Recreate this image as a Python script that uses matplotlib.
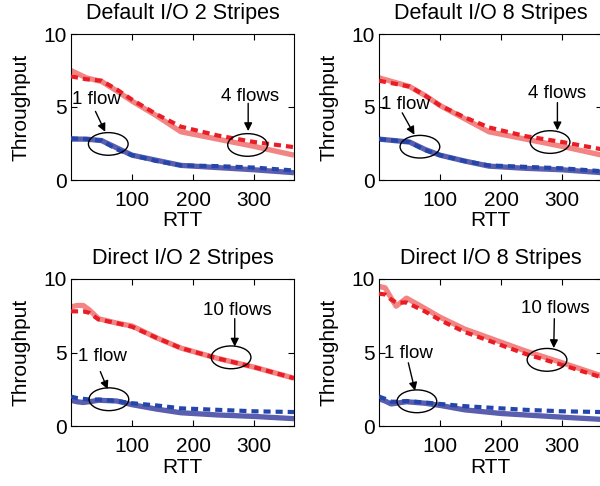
import numpy as np
import matplotlib
matplotlib.use("Agg")
import matplotlib.pyplot as plt
from matplotlib.patches import Ellipse

plt.rcParams['font.family'] = ['Liberation Sans', 'DejaVu Sans']

# RTT sample points
rtt_a = [0, 25, 50, 75, 100, 140, 180, 240, 300, 365]
rtt_b = [0, 10, 20, 30, 45, 75, 100, 140, 180, 240, 300, 365]
rtt_c = [0, 10, 20, 28, 45, 75, 100, 140, 200, 240, 300, 365]

# Default I/O 2 stripes
d2_red_solid = [7.5, 7.0, 6.75, 6.1, 5.4, 4.4, 3.3, 2.8, 2.3, 1.7]
d2_red_dash = [7.1, 6.9, 6.8, 6.2, 5.5, 4.5, 3.65, 3.05, 2.6, 2.25]
d2_blue_solid = [2.8, 2.8, 2.7, 2.2, 1.7, 1.35, 1.0, 0.85, 0.7, 0.5]
d2_blue_dash = [2.85, 2.8, 2.7, 2.1, 1.7, 1.3, 1.0, 0.95, 0.85, 0.65]

# Default I/O 8 stripes
d8_red_solid = [7.0, 6.7, 6.4, 5.8, 5.1, 4.2, 3.3, 2.8, 2.3, 1.7]
d8_red_dash = [6.8, 6.6, 6.4, 5.8, 5.1, 4.3, 3.6, 3.0, 2.6, 2.1]
d8_blue_solid = [2.8, 2.7, 2.6, 2.1, 1.7, 1.3, 0.95, 0.8, 0.7, 0.5]
d8_blue_dash = [2.8, 2.7, 2.6, 2.05, 1.7, 1.3, 1.0, 0.9, 0.8, 0.6]

# Direct I/O 2 stripes
r2_red_solid = [8.1, 8.2, 8.2, 7.9, 7.3, 7.0, 6.8, 6.0, 5.3, 4.6, 4.0, 3.25]
r2_red_dash = [7.8, 7.8, 7.8, 7.7, 7.25, 7.0, 6.75, 6.0, 5.3, 4.6, 4.0, 3.25]
r2_blue_solid = [1.75, 1.65, 1.6, 1.65, 1.75, 1.7, 1.45, 1.15, 0.9, 0.75, 0.65, 0.5]
r2_blue_dash = [2.0, 1.9, 1.85, 1.8, 1.8, 1.7, 1.55, 1.4, 1.2, 1.1, 1.0, 0.95]

# Direct I/O 8 stripes
r8_red_solid = [9.5, 9.4, 8.7, 8.15, 8.7, 8.0, 7.4, 6.6, 5.7, 5.1, 4.3, 3.4]
r8_red_dash = [9.0, 8.95, 8.6, 8.4, 8.4, 7.8, 7.2, 6.4, 5.5, 4.9, 4.15, 3.3]
r8_blue_solid = [1.85, 1.7, 1.5, 1.55, 1.65, 1.55, 1.4, 1.1, 0.85, 0.75, 0.6, 0.45]
r8_blue_dash = [2.0, 1.85, 1.65, 1.65, 1.7, 1.6, 1.5, 1.35, 1.2, 1.1, 1.0, 0.95]

RED_SOLID = '#f28484'
RED_DASH = '#ea1c24'
BLUE_SOLID = '#5a5eae'
BLUE_DASH = '#2446aa'

fig = plt.figure(figsize=(6, 4.86), dpi=100)

W = 223 / 600
positions = [
    [71 / 600, 306 / 486, W, 146 / 486],
    [379 / 600, 306 / 486, W, 146 / 486],
    [71 / 600, 60 / 486, W, 147 / 486],
    [379 / 600, 60 / 486, W, 147 / 486],
]

panels = [
    ("Default I/O 2 Stripes", rtt_a, d2_red_solid, d2_red_dash, d2_blue_solid, d2_blue_dash,
     "4 flows", (293, 5.75), (290, 5.25), (290, 3.35), (289, 2.4), (42, 5.5), (40, 4.7), (56, 3.3), (61, 2.47)),
    ("Default I/O 8 Stripes", rtt_a, d8_red_solid, d8_red_dash, d8_blue_solid, d8_blue_dash,
     "4 flows", (292, 5.9), (292, 5.3), (292, 3.4), (280, 2.6), (44, 5.2), (38, 4.6), (58, 3.1), (67, 2.28)),
    ("Direct I/O 2 Stripes", rtt_b, r2_red_solid, r2_red_dash, r2_blue_solid, r2_blue_dash,
     "10 flows", (272, 7.85), (268, 7.3), (268, 5.4), (262, 4.67), (51, 4.7), (48, 3.7), (60, 2.5), (62, 1.82)),
    ("Direct I/O 8 Stripes", rtt_c, r8_red_solid, r8_red_dash, r8_blue_solid, r8_blue_dash,
     "10 flows", (289, 8.0), (287, 7.3), (286, 5.3), (275, 4.5), (48, 4.9), (48, 4.3), (59, 2.4), (62, 1.68)),
]

for pos, p in zip(positions, panels):
    (title, x, rs, rd, bs, bd, many, many_txt, many_a0, many_a1, many_ell,
     one_txt, one_a0, one_a1, one_ell) = p
    ax = fig.add_axes(pos)
    ax.plot(x, rs, color=RED_SOLID, lw=3.8, solid_capstyle='butt', zorder=2)
    ax.plot(x, rd, color=RED_DASH, lw=3.0, dashes=(1.7, 1.2), zorder=3)
    ax.plot(x, bs, color=BLUE_SOLID, lw=3.8, solid_capstyle='butt', zorder=2)
    ax.plot(x, bd, color=BLUE_DASH, lw=3.0, dashes=(1.7, 1.2), zorder=3)

    for ctr in (many_ell, one_ell):
        ax.add_patch(Ellipse(ctr, 65, 1.55, fill=False, ec='black', lw=1.0, zorder=4))
    ax.text(*many_txt, many, ha='center', va='center', fontsize=13.5)
    ax.text(*one_txt, "1 flow", ha='center', va='center', fontsize=13.5)
    for a0, a1 in ((many_a0, many_a1), (one_a0, one_a1)):
        ax.annotate('', xy=a1, xytext=a0,
                    arrowprops=dict(arrowstyle='-|>', color='black', lw=1.0,
                                    mutation_scale=12, shrinkA=0, shrinkB=0))

    ax.set_xlim(0, 365)
    ax.set_ylim(0, 10)
    ax.set_xticks([100, 200, 300])
    ax.set_yticks([0, 5, 10])
    ax.tick_params(direction='in', top=True, right=True, length=4, labelsize=15)
    ax.tick_params(axis='x', pad=8)
    ax.tick_params(axis='y', pad=3)
    ax.set_title(title, fontsize=15.5, pad=11)
    ax.set_xlabel("RTT", fontsize=15, labelpad=1)
    ax.set_ylabel("Throughput", fontsize=15, labelpad=9)

fig.savefig("out.png", dpi=100)
